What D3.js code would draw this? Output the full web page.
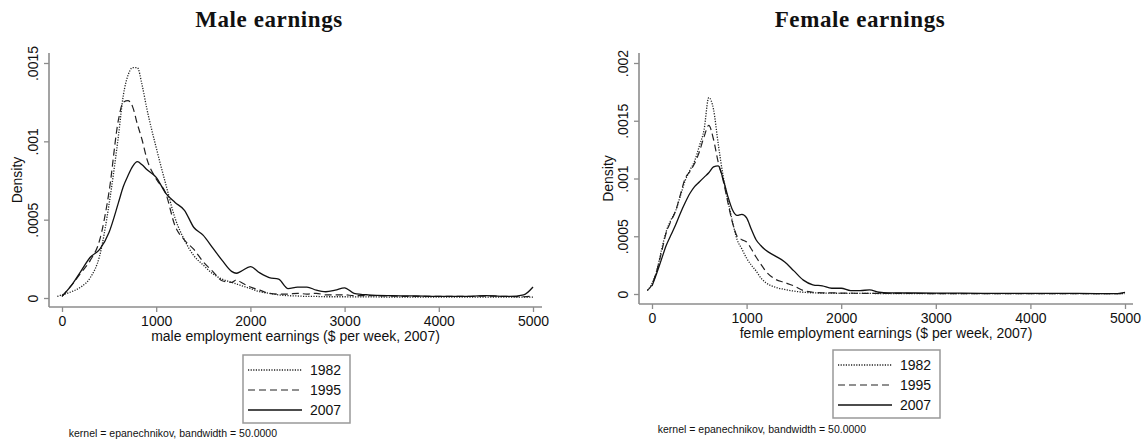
<!DOCTYPE html>
<html>
<head>
<meta charset="utf-8">
<script src="https://cdn.jsdelivr.net/npm/d3@7"></script>
<style>
	body { margin: 0; background: #fff; }
	text { font-family: "Liberation Sans", Arial, sans-serif; fill: #111; }
</style>
</head>
<body>
<div id="chart"></div>
<script>
// weekly earnings grid ($ per week, 2007) and kernel density estimates
var maleX = [-50, 0, 100, 200, 300, 400, 500, 600, 650, 700, 750, 800, 850, 900, 1000, 1100, 1200, 1300, 1400, 1500,
	1600, 1700, 1800, 1850, 1900, 2000, 2100, 2200, 2300, 2400, 2500, 2600, 2700, 2800, 2900, 3000, 3100, 3250, 3500,
	3750, 4000, 4250, 4500, 4750, 4900, 5000];
var male1982 = [0.00001, 0.00002, 0.00004, 0.00007, 0.00013, 0.00027, 0.0006, 0.00104, 0.00129, 0.00142, 0.00147,
	0.00147, 0.00136, 0.00121, 0.00096, 0.00073, 0.00051, 0.00037, 0.00027, 0.00021, 0.000155, 0.00012, 0.0001,
	0.00009, 0.00008, 0.00006, 0.00004, 0.00003, 0.00002, 0.000015, 0.000013, 0.00001, 0.00001, 0.000008, 0.000008,
	0.000008, 0.000007, 0.000007, 0.000006, 0.000006, 0.000005, 0.000005, 0.000005, 0.000005, 0.000005, 0.000005];
var male1995 = [null, 0.00001, 0.00008, 0.00016, 0.00024, 0.00037, 0.00068, 0.00114, 0.00125, 0.00126, 0.00122,
	0.00111, 0.00101, 0.00089, 0.00076, 0.00067, 0.00046, 0.00037, 0.00031, 0.00023, 0.00017, 0.00011, 0.0001,
	0.000115, 0.0001, 0.00007, 0.00005, 0.00003, 0.000025, 0.000025, 0.00003, 0.000025, 0.00003, 0.00002, 0.00002,
	0.00002, 0.000015, 0.000015, 0.000012, 0.00001, 0.00001, 0.00001, 0.000012, 0.00001, 0.000008, 0.000013];
var male2007 = [null, 0.00001, 0.00008, 0.00017, 0.00026, 0.00031, 0.00042, 0.00061, 0.00071, 0.00078, 0.00084,
	0.00087, 0.00085, 0.00082, 0.00077, 0.00067, 0.00061, 0.00056, 0.00045, 0.0004, 0.00032, 0.00024, 0.00017,
	0.000158, 0.00017, 0.0002, 0.00016, 0.00013, 0.00012, 0.00006, 0.00007, 0.00007, 0.00005, 0.00004, 0.00005,
	0.000065, 0.00003, 0.00002, 0.000015, 0.000013, 0.00001, 0.00001, 0.000015, 0.00001, 0.00002, 0.00007];

var femaleX = [-50, 0, 50, 100, 150, 200, 250, 300, 350, 400, 450, 500, 550, 600, 650, 700, 750, 800, 850, 900, 950,
	1000, 1050, 1100, 1150, 1200, 1300, 1400, 1500, 1600, 1700, 1800, 1900, 2000, 2100, 2200, 2300, 2400, 2500, 3000,
	3500, 4000, 4500, 4900, 5000];
var female1982 = [0.00003, 0.00009, 0.0002, 0.00038, 0.00054, 0.00064, 0.00072, 0.00085, 0.00098, 0.00107, 0.00115,
	0.00128, 0.00142, 0.0017, 0.0016, 0.0013, 0.00103, 0.00082, 0.00063, 0.00047, 0.00039, 0.00031, 0.00025, 0.0002,
	0.00014, 0.0001, 0.00006, 0.00004, 0.000025, 0.000015, 0.00001, 0.000008, 0.000007, 0.000006, 0.000005, 0.000005,
	0.000005, 0.000004, 0.000004, 0.000004, 0.000003, 0.000003, 0.000003, 0.000003, 0.000003];
var female1995 = [0.00003, 0.00008, 0.0002, 0.00036, 0.00053, 0.00063, 0.00072, 0.00086, 0.001, 0.00106, 0.00113,
	0.00123, 0.00136, 0.00146, 0.00134, 0.00114, 0.00099, 0.0008, 0.00062, 0.0005, 0.00047, 0.00045, 0.00039, 0.00032,
	0.00026, 0.0002, 0.00013, 0.0001, 0.00007, 0.00003, 0.000015, 0.00001, 0.00001, 0.000008, 0.000007, 0.000006,
	0.000006, 0.000005, 0.000005, 0.000004, 0.000004, 0.000004, 0.000004, 0.000004, 0.000004];
var female2007 = [null, 0.00007, 0.00018, 0.0003, 0.00042, 0.00051, 0.0006, 0.0007, 0.00079, 0.00087, 0.00093,
	0.00097, 0.00101, 0.00105, 0.0011, 0.00111, 0.001, 0.00085, 0.00073, 0.00068, 0.00069, 0.00066, 0.00056, 0.00047,
	0.00042, 0.00038, 0.00033, 0.00028, 0.0002, 0.00012, 0.00008, 0.00007, 0.00005, 0.00005, 0.00003, 0.00003,
	0.000035, 0.000015, 0.00001, 0.000008, 0.000006, 0.000005, 0.000005, 0.000003, 0.000014];

var years = ["1982", "1995", "2007"];
var xTicks = [0, 1000, 2000, 3000, 4000, 5000];
var maleYTicks = [0, 0.0005, 0.001, 0.0015];
var femaleYTicks = [0, 0.0005, 0.001, 0.0015, 0.002];
var noteText = "kernel = epanechnikov, bandwidth = 50.0000";

// line pattern for each year
var lineStyle = {
	"1982": { dash: "1.2,1.4", width: 1.3, color: "#222" },
	"1995": { dash: "7,4", width: 1.2, color: "#222" },
	"2007": { dash: null, width: 1.3, color: "#111" }
};
var axisColor = "#8c8c8c";

var svg = d3.select("#chart")
	.append("svg")
	.attr("width", 1148)
	.attr("height", 445);

// Stata style tick labels: .0015 instead of 0.0015
var stataFormat = function (v) {
	return v === 0 ? "0" : String(v).replace(/^0\./, ".");
};

function drawPanel(p) {
	var g = svg.append("g");

	var x = d3.scaleLinear().domain([0, 5000]).range(p.xRange);
	var y = d3.scaleLinear().domain([0, p.yTicks[p.yTicks.length - 1]]).range(p.yRange);

	// title
	g.append("text")
		.attr("x", p.titleX)
		.attr("y", 27)
		.attr("text-anchor", "middle")
		.style("font-family", "'Liberation Serif', 'Times New Roman', serif")
		.style("font-weight", "bold")
		.style("font-size", "23px")
		.style("letter-spacing", "0.6px")
		.text(p.title);

	// x axis
	var xAxis = g.append("g")
		.attr("transform", "translate(0," + p.axisY + ")")
		.call(d3.axisBottom(x).tickValues(xTicks).tickSize(5).tickSizeOuter(0).tickFormat(d3.format("d")));
	xAxis.select(".domain").remove();
	xAxis.selectAll(".tick line").attr("stroke", axisColor).attr("stroke-width", 1.3);
	xAxis.selectAll(".tick text")
		.attr("y", 9)
		.attr("dy", "0.71em")
		.style("font-size", "14px")
		.style("font-family", "'Liberation Sans', Arial, sans-serif")
		.attr("fill", "#111");
	g.append("line")
		.attr("x1", p.axisX).attr("x2", p.axisRight)
		.attr("y1", p.axisY).attr("y2", p.axisY)
		.attr("stroke", axisColor).attr("stroke-width", 1.6);

	// y axis, labels rotated
	var yAxis = g.append("g")
		.attr("transform", "translate(" + p.axisX + ",0)")
		.call(d3.axisLeft(y).tickValues(p.yTicks).tickSize(5).tickSizeOuter(0).tickFormat(stataFormat));
	yAxis.select(".domain").remove();
	yAxis.selectAll(".tick line").attr("stroke", axisColor).attr("stroke-width", 1.3);
	yAxis.selectAll(".tick text")
		.attr("transform", "rotate(-90)")
		.attr("x", 0)
		.attr("y", -11)
		.attr("dy", 0)
		.attr("text-anchor", "middle")
		.style("font-size", "14px")
		.style("font-family", "'Liberation Sans', Arial, sans-serif")
		.attr("fill", "#111");
	g.append("line")
		.attr("x1", p.axisX).attr("x2", p.axisX)
		.attr("y1", p.axisTop).attr("y2", p.axisY)
		.attr("stroke", axisColor).attr("stroke-width", 1.6);

	// axis titles
	g.append("text")
		.attr("x", (p.axisX + p.axisRight) / 2)
		.attr("y", p.axisY + 34)
		.attr("text-anchor", "middle")
		.style("font-size", "14px")
		.text(p.xLabel);
	g.append("text")
		.attr("transform", "translate(" + p.densityX + "," + ((p.axisTop + p.axisY) / 2) + ") rotate(-90)")
		.attr("text-anchor", "middle")
		.style("font-size", "14px")
		.text("Density");

	// density curves
	var line = d3.line()
		.defined(function (d) { return d[1] != null; })
		.x(function (d) { return x(d[0]); })
		.y(function (d) { return y(d[1]); })
		.curve(d3.curveMonotoneX);

	years.forEach(function (yr, i) {
		var pts = p.xs.map(function (v, j) { return [v, p.series[i][j]]; });
		var st = lineStyle[yr];
		g.append("path")
			.datum(pts)
			.attr("d", line)
			.attr("fill", "none")
			.attr("stroke", st.color)
			.attr("stroke-width", st.width)
			.attr("stroke-dasharray", st.dash);
	});

	// legend
	var lg = g.append("g").attr("transform", "translate(" + p.legend[0] + "," + p.legend[1] + ")");
	lg.append("rect")
		.attr("width", 107)
		.attr("height", 68)
		.attr("fill", "#fff")
		.attr("stroke", "#999")
		.attr("stroke-width", 1.5);
	years.forEach(function (yr, i) {
		var st = lineStyle[yr];
		var ry = 15 + i * 20;
		lg.append("line")
			.attr("x1", 5).attr("x2", 59)
			.attr("y1", ry).attr("y2", ry)
			.attr("stroke", st.color)
			.attr("stroke-width", st.width)
			.attr("stroke-dasharray", st.dash);
		lg.append("text")
			.attr("x", 67)
			.attr("y", ry + 5)
			.style("font-size", "14px")
			.text(yr);
	});

	// kernel note
	g.append("text")
		.attr("x", p.noteEnd)
		.attr("y", p.noteY)
		.attr("text-anchor", "end")
		.style("font-size", "10.5px")
		.text(noteText);
}

drawPanel({
	title: "Male earnings", titleX: 269,
	xs: maleX, series: [male1982, male1995, male2007],
	yTicks: maleYTicks,
	xRange: [62, 533], yRange: [298, 63],
	axisX: 49, axisY: 307, axisRight: 542, axisTop: 53,
	densityX: 22,
	xLabel: "male employment earnings ($ per week, 2007)",
	legend: [243, 355],
	noteEnd: 277, noteY: 437
});

drawPanel({
	title: "Female earnings", titleX: 860,
	xs: femaleX, series: [female1982, female1995, female2007],
	yTicks: femaleYTicks,
	xRange: [652, 1125], yRange: [294, 63],
	axisX: 639, axisY: 304, axisRight: 1133, axisTop: 53,
	densityX: 613,
	xLabel: "femle employment earnings ($ per week, 2007)",
	legend: [833, 350],
	noteEnd: 866, noteY: 433
});
</script>
</body>
</html>
